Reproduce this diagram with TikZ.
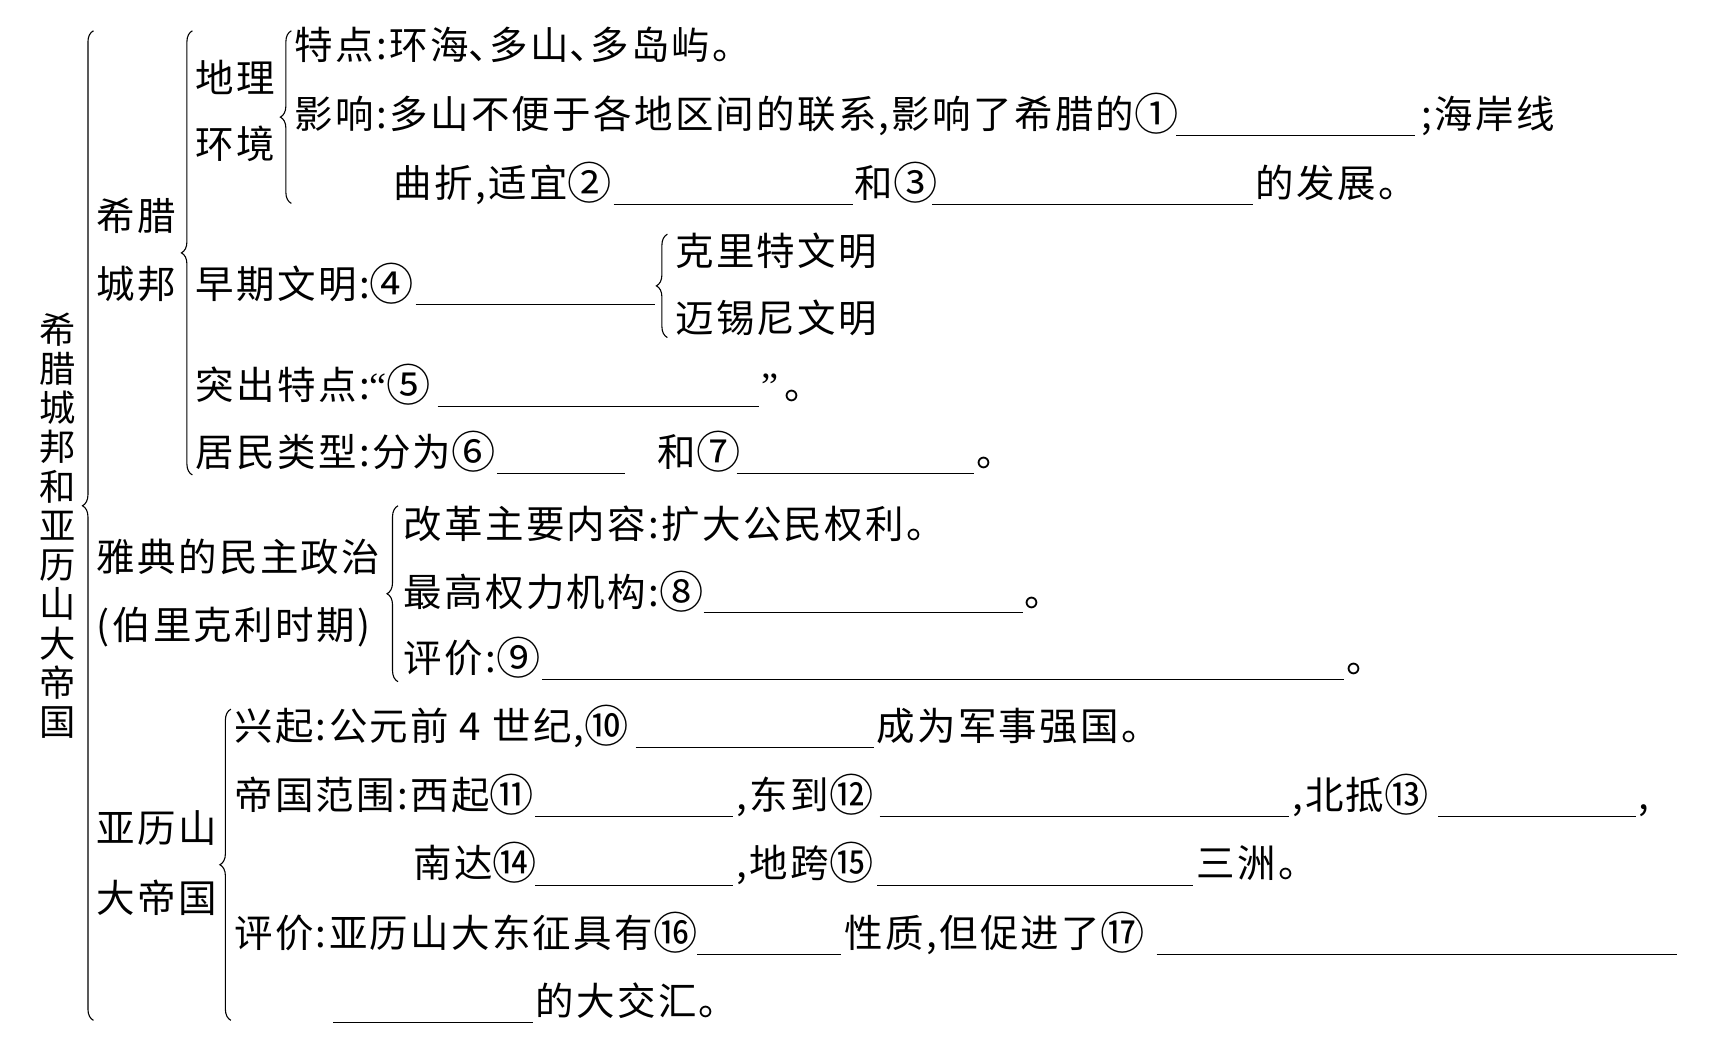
\documentclass[tikz,border=0pt]{standalone}
\usepackage{fontspec}
\usepackage{graphicx}
\setmainfont{Noto Sans CJK SC}[LetterSpace=6]
\newfontfamily\latf{Liberation Serif}
\usetikzlibrary{decorations.pathreplacing}
\newcommand\cnum[1]{\makebox[1.15em]{\raisebox{-0.05em}{\scalebox{1.15}{#1}}}}
\newcommand\dun{\makebox[0.55em][l]{、}}
\begin{document}
\begin{tikzpicture}[x=1pt,y=-1pt,
  txt/.style={anchor=west,inner sep=0pt,text height=26pt,text depth=3pt,font=\fontsize{35}{38}\selectfont},
  blank/.style={line width=0.9pt},
  lbrace/.style={decorate,decoration={brace,amplitude=10pt},line width=1pt}]
\useasboundingbox[fill=white] (0,0) rectangle (1568,944);

% vertical title
\node[inner sep=0pt,align=center,font=\fontsize{33}{35.7}\selectfont] (title) at (52,478)
 {希\\腊\\城\\邦\\和\\亚\\历\\山\\大\\帝\\国};

% outer brace
\coordinate (ob1) at (85,928); \coordinate (ob2) at (85,28);
\draw[lbrace,decoration={aspect=0.52}] (ob1) -- (ob2);

% ---- 希腊城邦 ----
\node[txt] (xila1) at (88,198) {希腊};
\node[txt] (xila2) at (88,260) {城邦};
\coordinate (b2a) at (175,432); \coordinate (b2b) at (175,28);
\draw[lbrace] (b2a) -- (b2b);

\node[txt] (dl1) at (178,73) {地理};
\node[txt] (dl2) at (178,133) {环境};
\coordinate (b3a) at (265,185); \coordinate (b3b) at (265,28);
\draw[lbrace] (b3a) -- (b3b);

\node[txt] (tedian) at (268,43) {特点:环海\dun 多山\dun 多岛屿。};
\node[txt] (yx1) at (268,105) {影响:多山不便于各地区间的联系,影响了希腊的\cnum{①}};
\draw[blank] (1070,123) -- (1287,123);
\node[txt] (yx2) at (1293,105) {;海岸线};
\node[txt] (yx3) at (358,168) {曲折,适宜\cnum{②}};
\draw[blank] (558,186) -- (776,186);
\node[txt] (yx4) at (777,168) {和\cnum{③}};
\draw[blank] (848,186) -- (1140,186);
\node[txt] (yx5) at (1142,168) {的发展。};

\node[txt] (zq) at (178,260) {早期文明:\cnum{④}};
\draw[blank] (378,277) -- (596,277);
\coordinate (b4a) at (607,307); \coordinate (b4b) at (607,213);
\draw[lbrace] (b4a) -- (b4b);
\node[txt] (kl) at (614,230) {克里特文明};
\node[txt] (mx) at (614,291) {迈锡尼文明};

\node[txt] (tc1) at (178,352) {突出特点:{\latf “}\cnum{⑤}};
\draw[blank] (398,370) -- (690,370);
\node[txt] (tc2) at (692,352) {{\latf ”}\,。};

\node[txt] (jm1) at (178,413) {居民类型:分为\cnum{⑥}};
\draw[blank] (452,431) -- (568,431);
\node[txt] (jm2) at (598,413) {和\cnum{⑦}};
\draw[blank] (670,431) -- (886,431);
\node[txt] (jm3) at (888,413) {。};

% ---- 雅典 ----
\node[txt] (yd1) at (88,508) {雅典的民主政治};
\node[txt] (yd2) at (88,570) {(伯里克利时期)};
\coordinate (b5a) at (362,620); \coordinate (b5b) at (362,460);
\draw[lbrace] (b5a) -- (b5b);
\node[txt] (gg) at (367,478) {改革主要内容:扩大公民权利。};
\node[txt] (zg1) at (367,540) {最高权力机构:\cnum{⑧}};
\draw[blank] (640,557) -- (930,557);
\node[txt] (zg2) at (932,540) {。};
\node[txt] (pj1) at (367,600) {评价:\cnum{⑨}};
\draw[blank] (493,618) -- (1222,618);
\node[txt] (pj2) at (1224,600) {。};

% ---- 亚历山大帝国 ----
\node[txt] (yl1) at (88,755) {亚历山};
\node[txt] (yl2) at (88,818) {大帝国};
\coordinate (b6a) at (210,928); \coordinate (b6b) at (210,645);
\draw[lbrace] (b6a) -- (b6b);

\node[txt] (xq1) at (213,662) {兴起:公元前 4 世纪,\cnum{⑩}};
\draw[blank] (578,680) -- (795,680);
\node[txt] (xq2) at (797,662) {成为军事强国。};

\node[txt] (fw1) at (213,725) {帝国范围:西起\cnum{⑪}};
\draw[blank] (487,743) -- (667,743);
\node[txt] (fw2) at (670,725) {,东到\cnum{⑫}};
\draw[blank] (800,743) -- (1172,743);
\node[txt] (fw3) at (1175,725) {,北抵\cnum{⑬}};
\draw[blank] (1308,743) -- (1488,743);
\node[txt] (fw4) at (1490,725) {,};

\node[txt] (nd1) at (376,787) {南达\cnum{⑭}};
\draw[blank] (487,805) -- (667,805);
\node[txt] (nd2) at (670,787) {,地跨\cnum{⑮}};
\draw[blank] (798,805) -- (1085,805);
\node[txt] (nd3) at (1088,787) {三洲。};

\node[txt] (pa1) at (213,850) {评价:亚历山大东征具有\cnum{⑯}};
\draw[blank] (634,868) -- (765,868);
\node[txt] (pa2) at (768,850) {性质,但促进了\cnum{⑰}};
\draw[blank] (1052,868) -- (1525,868);
\draw[blank] (303,930) -- (485,930);
\node[txt] (pa3) at (487,912) {的大交汇。};
\end{tikzpicture}
\end{document}
